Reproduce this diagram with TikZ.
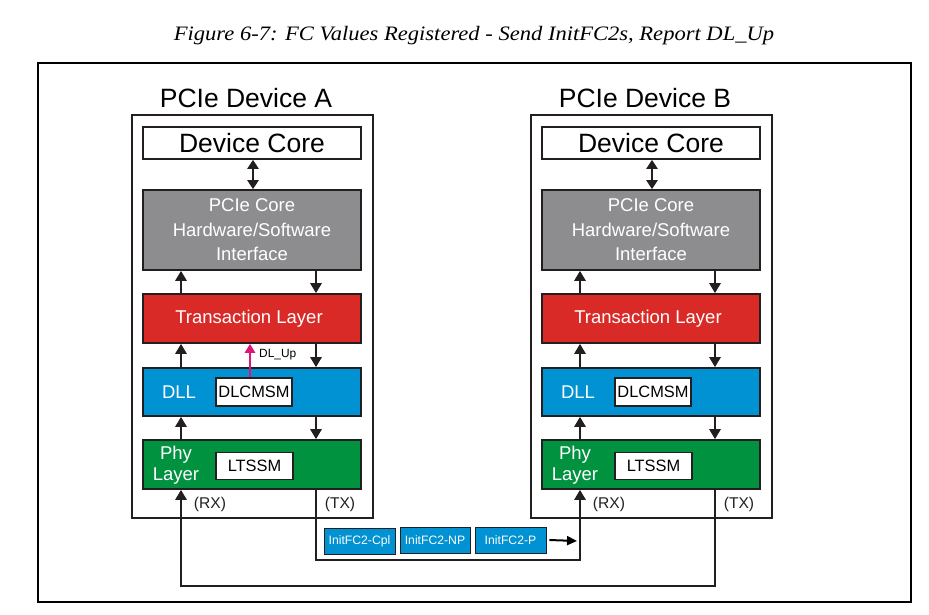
\documentclass[tikz,border=0pt]{standalone}
\usepackage{fontspec}
\setmainfont{Liberation Sans}
\newfontfamily\capfont[FakeStretch=1.1]{Liberation Serif}
\usetikzlibrary{arrows.meta}
\definecolor{pgray}{RGB}{141,141,144}
\definecolor{pred}{RGB}{217,42,39}
\definecolor{pblue}{RGB}{0,146,210}
\definecolor{pgreen}{RGB}{0,146,63}
\definecolor{pdark}{RGB}{35,31,32}
\definecolor{pmag}{RGB}{222,20,120}
\tikzset{
  fs/.style={font=\fontsize{#1}{#1}\selectfont},
  layerbox/.style={draw=pdark, line width=1.6pt, minimum width=218pt, inner sep=0pt, text=white},
  smallbox/.style={draw=pdark, line width=1.2pt, fill=white, inner sep=0pt, fs=16.4},
  pkt/.style={draw=pdark, line width=0.9pt, fill=pblue, text=white, minimum height=26pt, inner sep=0pt, fs=12.2},
  conn/.style={draw=pdark, line width=2.8pt},
  tip/.style={-{Triangle[width=11pt,length=10pt]}},
  devframe/.style={draw=pdark, line width=1.6pt},
  lbl/.style={fs=15.6, text=pdark, inner sep=0pt}
}
\begin{document}
\begin{tikzpicture}[x=1pt,y=-1pt]
\useasboundingbox (0,0) rectangle (929,615);
\node[inner sep=0pt] (cap) at (474,36) {\capfont\itshape\fontsize{20.5}{24}\selectfont Figure 6-7: FC Values Registered - Send InitFC2s, Report DL\_Up};
\draw[line width=2.5pt, black] (38,63) rectangle (911,602);

\foreach \d/\ox in {A/0,B/399}{
  \begin{scope}[xshift=\ox pt]
  \node[fs=26.5, text=black, inner sep=0pt] (title\d) at (246,98) {PCIe Device \d};
  \draw[devframe] (132,115) rectangle (373,518);
  \node[layerbox, fill=white, text=black, minimum height=32pt, fs=26.5] (core\d) at (252,143) {\raisebox{-1pt}{Device Core}};
  \node[layerbox, fill=pgray, minimum height=80pt, fs=18.5, align=center] (hw\d) at (252,230) {PCIe Core\\[6pt]Hardware/Software\\[6pt]Interface};
  \node[layerbox, fill=pred, minimum height=49pt, fs=18.5] (tl\d) at (252,318.5) {\raisebox{-2pt}{Transaction Layer\hspace{6pt}}};
  \node[layerbox, fill=pblue, minimum height=48pt] (dll\d) at (252,392) {};
  \node[fs=18.5, text=white, inner sep=0pt] (dlllbl\d) at (179,392) {DLL};
  \node[smallbox, minimum width=76pt, minimum height=28pt] (dlc\d) at (254,392) {DLCMSM};
  \node[layerbox, fill=pgreen, minimum height=49pt] (phy\d) at (252,464.5) {};
  \node[fs=18.5, text=white, inner sep=0pt, align=center] (phylbl\d) at (176,465) {Phy\\[3pt]Layer};
  \node[smallbox, minimum width=77pt, minimum height=27pt] (lts\d) at (254.5,466) {LTSSM};
  \draw[conn, {Triangle[width=11pt,length=9pt]}-{Triangle[width=11pt,length=9pt]}] (core\d.south -| 253,0) -- (hw\d.north -| 253,0);
  \draw[conn, tip] (tl\d.north -| 181,0) -- (hw\d.south -| 181,0);
  \draw[conn, tip] (hw\d.south -| 316,0) -- (tl\d.north -| 316,0);
  \draw[conn, tip] (dll\d.north -| 181,0) -- (tl\d.south -| 181,0);
  \draw[conn, tip] (tl\d.south -| 316,0) -- (dll\d.north -| 316,0);
  \draw[conn, tip] (phy\d.north -| 181,0) -- (dll\d.south -| 181,0);
  \draw[conn, tip] (dll\d.south -| 316,0) -- (phy\d.north -| 316,0);
  \node[lbl] (rx\d) at (210,504) {(RX)};
  \node[lbl] (tx\d) at (340,504) {(TX)};
  \end{scope}
}
\draw[pmag, line width=2.4pt, -{Triangle[width=10pt,length=9pt]}] (dlcA.north -| 250,0) -- (tlA.south -| 250,0);
\node[fs=11.9, text=black, inner sep=0pt, anchor=west] (dlup) at (259,355) {DL\_Up};

\node[pkt, minimum width=71pt] (cpl) at (359.5,541) {InitFC2-Cpl};
\node[pkt, minimum width=70pt] (np) at (435,540) {InitFC2-NP};
\node[pkt, minimum width=71pt] (pp) at (510.5,540) {InitFC2-P};
\coordinate (pend) at (577,541);
\draw[black, line width=2pt, -{Triangle[width=9pt,length=10pt]}] (pp.east) ++(3,0) -- (pend);

\coordinate (a1) at (316,560);
\coordinate (a2) at (580,560);
\draw[conn, tip] (phyA.south -| a1) -- (a1) -- (a2) -- (phyB.south -| a2);
\coordinate (b1) at (715,586);
\coordinate (b2) at (181,586);
\draw[conn, tip] (phyB.south -| b1) -- (b1) -- (b2) -- (phyA.south -| b2);
\end{tikzpicture}
\end{document}
